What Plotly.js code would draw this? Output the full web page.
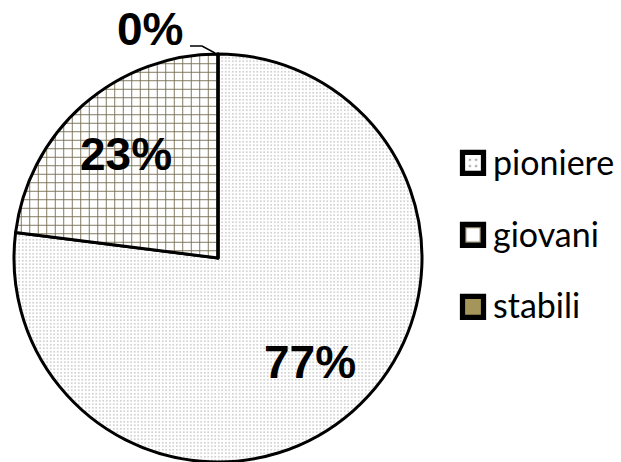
<!DOCTYPE html>
<html>
<head>
<meta charset="utf-8">
<script src="https://cdn.plot.ly/plotly-3.0.1.min.js"></script>
<style>
  html, body { margin: 0; padding: 0; background: #fff; }
  #chart { width: 621px; height: 462px; }
  /* larger legend swatches, sitting level with the legend text */
  .legendpie { transform: translate(20px, 9px) scale(1.75); }
</style>
</head>
<body>
<div id="chart"></div>
<script>
// Age classes of the stand
const categories = ['pioniere', 'giovani', 'stabili'];
const shares = [77, 23, 0];

const fillColors = ['#ffffff', '#ffffff', '#a4965a'];
const patternShapes = ['.', '+', ''];
const patternInk = ['#8c8c8c', '#756b50', '#a4965a'];

// pie geometry in pixels
const W = 621, H = 462;
const CX = 218, CY = 258, R = 204;

const total = shares.reduce((a, b) => a + b, 0);
const pctText = shares.map(v => Math.round(v / total * 100) + '%');

const pie = {
  type: 'pie',
  labels: categories.map(c => '<span style="font-size:34px">' + c + '</span>'),
  values: shares,
  textinfo: 'none',
  sort: false,
  direction: 'clockwise',
  rotation: 0,
  marker: {
    colors: fillColors,
    line: { color: '#000', width: 3 },
    pattern: {
      shape: patternShapes,
      fgcolor: patternInk,
      bgcolor: fillColors,
      size: [3.5, 8.5, 8],
      solidity: [0.1, 0.2, 1]
    }
  },
  domain: { x: [(CX - R) / W, (CX + R) / W], y: [(H - CY - R) / H, (H - CY + R) / H] },
  hoverinfo: 'none'
};

// percentage labels placed along each slice's mid-angle
const labelFont = { family: 'Liberation Sans, Arial, sans-serif', size: 46, color: '#000', weight: 'bold' };
const annotations = [];
const shapes = [];
let cum = 0;
shares.forEach((v, i) => {
  const mid = (cum + v / 2) / total * 2 * Math.PI;
  cum += v;
  const sx = Math.sin(mid), sy = Math.cos(mid);
  if (v > 0) {
    const f = 0.68;
    annotations.push({
      text: pctText[i], xref: 'paper', yref: 'paper',
      x: (CX + R * f * sx) / W, y: (H - CY + R * f * sy) / H,
      xanchor: 'center', yanchor: 'middle', showarrow: false, font: labelFont
    });
  } else {
    // empty slice: label outside with a bent leader line
    const tipX = CX + R * sx, tipY = H - CY + R * sy;
    const lx = tipX - 68, ly = tipY + 25;
    annotations.push({
      text: pctText[i], xref: 'paper', yref: 'paper',
      x: lx / W, y: ly / H,
      xanchor: 'center', yanchor: 'middle', showarrow: false, font: labelFont
    });
    shapes.push({
      type: 'path', xref: 'paper', yref: 'paper',
      path: 'M ' + ((tipX - 28) / W) + ',' + ((tipY + 8) / H) +
            ' L ' + ((tipX - 16) / W) + ',' + ((tipY + 8) / H) +
            ' L ' + ((tipX - 3) / W) + ',' + ((tipY + 1) / H),
      line: { color: '#000', width: 1.5 }
    });
  }
});

const layout = {
  width: W,
  height: H,
  margin: { l: 0, r: 0, t: 0, b: 0 },
  paper_bgcolor: '#fff',
  showlegend: true,
  legend: {
    x: 453 / W, xanchor: 'left',
    y: 1 - 226 / H, yanchor: 'middle',
    font: { family: 'Lato, Noto Sans, sans-serif', size: 53, color: '#000' },
    bgcolor: 'rgba(0,0,0,0)'
  },
  annotations: annotations,
  shapes: shapes
};

Plotly.newPlot('chart', [pie], layout, { displayModeBar: false, staticPlot: true });
</script>
</body>
</html>
